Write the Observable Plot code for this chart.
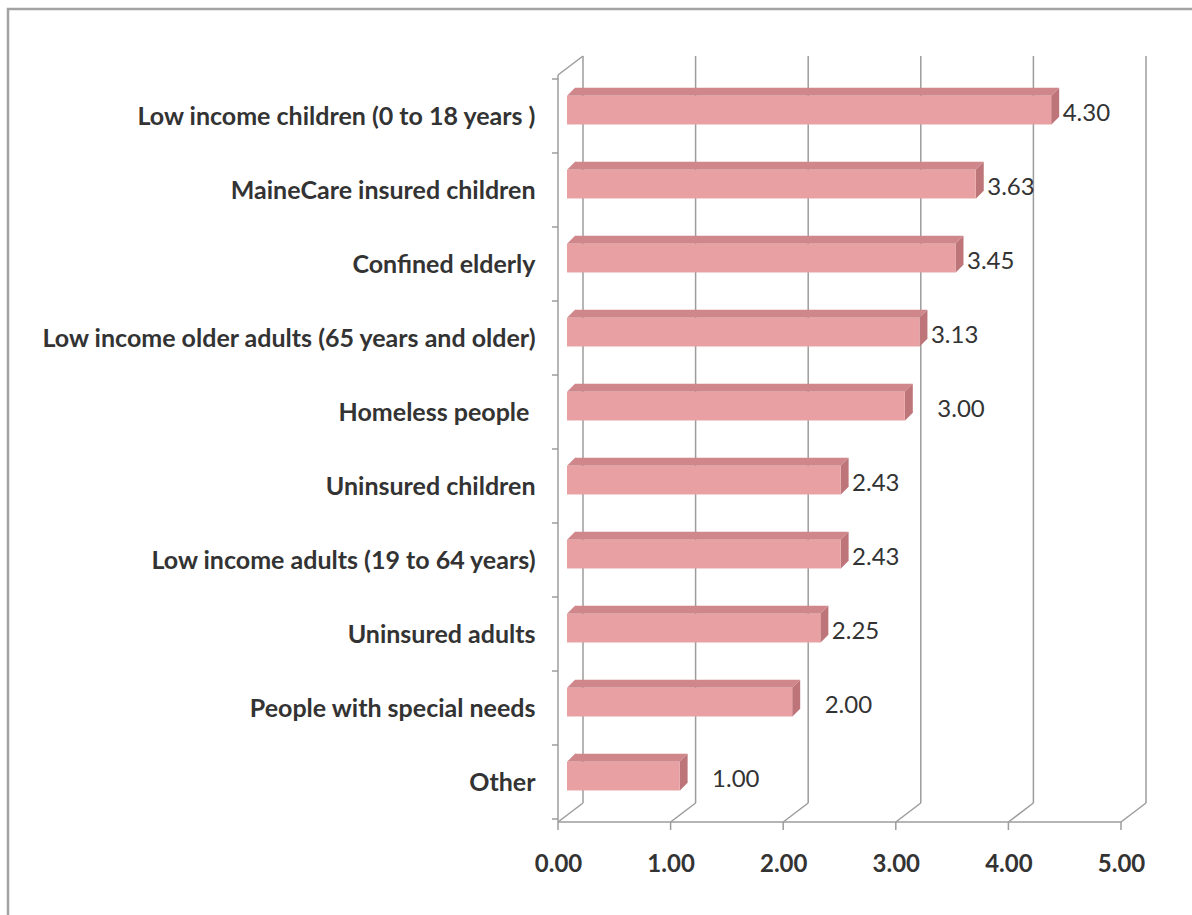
<!DOCTYPE html>
<html>
<head>
<meta charset="utf-8">
<script src="https://cdn.jsdelivr.net/npm/d3@7"></script>
<script src="https://cdn.jsdelivr.net/npm/@observablehq/plot@0.6"></script>
<style>
  body { margin: 0; background: #fff; }
  #chart svg { display: block; }
</style>
</head>
<body>
<div id="chart"></div>
<script>
// ---- data ----
const categories = [
  "Low income children (0 to 18 years )",
  "MaineCare insured children",
  "Confined elderly",
  "Low income older adults (65 years and older)",
  "Homeless people ",
  "Uninsured children",
  "Low income adults (19 to 64 years)",
  "Uninsured adults",
  "People with special needs",
  "Other"
];
const values = [4.30, 3.63, 3.45, 3.13, 3.00, 2.43, 2.43, 2.25, 2.00, 1.00];
const valueLabels = ["4.30", "3.63", "3.45", "3.13", "3.00", "2.43", "2.43", "2.25", "2.00", "1.00"];
const xTicks = [0, 1, 2, 3, 4, 5];
const xTickLabels = ["0.00", "1.00", "2.00", "3.00", "4.00", "5.00"];

const rows = categories.map((c, i) => ({category: c, value: values[i], label: valueLabels[i]}));

// ---- styling constants (3D look) ----
const WALL_DX = 25, WALL_DY = -19;      // depth of chart walls
const BAR_DX = 9;                         // bar front offset into depth
const BAR_DEPTH_X = 8, BAR_DEPTH_Y = -8;  // bar extrusion
const BAR_TOP_FRAC = 0.228, BAR_H_FRAC = 0.39;
const GRID = "#9c9c9c";

function walls(index, scales, values, dimensions) {
  const x = scales.x, y = scales.y;
  const top = dimensions.marginTop, bottom = dimensions.height - dimensions.marginBottom;
  const g = d3.create("svg:g").attr("fill", "none").attr("stroke", GRID).attr("stroke-width", 1.5);
  // outer border
  g.append("path").attr("d", `M8,${dimensions.height + 5}V9H${dimensions.width + 5}`)
    .attr("stroke", "#a3a3a3").attr("stroke-width", 2.5);
  for (const t of xTicks) {
    const px = x(t);
    g.append("line").attr("x1", px + WALL_DX).attr("x2", px + WALL_DX)
      .attr("y1", top + WALL_DY).attr("y2", bottom + WALL_DY);
    g.append("line").attr("x1", px).attr("y1", bottom)
      .attr("x2", px + WALL_DX).attr("y2", bottom + WALL_DY);
    g.append("line").attr("x1", px).attr("x2", px).attr("y1", bottom).attr("y2", bottom + 8);
  }
  // front floor edge
  g.append("line").attr("x1", x(xTicks[0])).attr("x2", x(xTicks[xTicks.length - 1]))
    .attr("y1", bottom).attr("y2", bottom);
  // left wall
  const x0 = x(xTicks[0]);
  g.append("line").attr("x1", x0).attr("x2", x0).attr("y1", top).attr("y2", bottom);
  g.append("line").attr("x1", x0).attr("y1", top).attr("x2", x0 + WALL_DX).attr("y2", top + WALL_DY);
  // category ticks on the wall at band boundaries
  const bounds = categories.map(c => y(c)).concat([y(categories[categories.length - 1]) + y.bandwidth()]);
  for (const b of bounds) {
    g.append("line").attr("x1", x0 - 6).attr("x2", x0).attr("y1", b).attr("y2", b);
  }
  return g.node();
}

function barSides(index, scales) {
  const x = scales.x, y = scales.y, bw = y.bandwidth();
  const g = d3.create("svg:g");
  for (const d of rows) {
    const y0 = y(d.category) + BAR_TOP_FRAC * bw;
    const y1 = y0 + BAR_H_FRAC * bw;
    const xl = x(0) + BAR_DX, xr = x(d.value) + BAR_DX;
    g.append("polygon")
      .attr("points", [[xl, y0], [xl + BAR_DEPTH_X, y0 + BAR_DEPTH_Y], [xr + BAR_DEPTH_X, y0 + BAR_DEPTH_Y], [xr, y0]].join(" "))
      .attr("fill", "#d0878c");
    g.append("polygon")
      .attr("points", [[xr, y0], [xr + BAR_DEPTH_X, y0 + BAR_DEPTH_Y], [xr + BAR_DEPTH_X, y1 + BAR_DEPTH_Y], [xr, y1]].join(" "))
      .attr("fill", "#bd757a");
  }
  return g.node();
}

const bwApprox = (915 - 75 - 93) / categories.length;

const chart = Plot.plot({
  width: 1192,
  height: 915,
  marginLeft: 558,
  marginRight: 71,
  marginTop: 75,
  marginBottom: 93,
  style: {
    fontFamily: "Lato, 'Open Sans', sans-serif",
    fontSize: "25px",
    fontWeight: "bold",
    color: "#333",
    background: "transparent",
    overflow: "visible"
  },
  x: {
    domain: [0, 5],
    ticks: xTicks,
    tickFormat: d => xTickLabels[xTicks.indexOf(d)],
    tickSize: 0,
    tickPadding: 32,
    label: null
  },
  y: {
    domain: categories,
    padding: 0,
    tickSize: 0,
    tickPadding: 23,
    label: null
  },
  marks: [
    walls,
    barSides,
    Plot.barX(rows, {
      x: "value",
      y: "category",
      dx: BAR_DX,
      insetTop: BAR_TOP_FRAC * bwApprox,
      insetBottom: (1 - BAR_TOP_FRAC - BAR_H_FRAC) * bwApprox,
      fill: "#e9a0a2"
    }),
    Plot.text(rows.filter(d => !Number.isInteger(d.value)), {
      x: "value", y: "category", text: "label",
      dx: 20, dy: -3, textAnchor: "start",
      fontSize: 24, fontWeight: "normal", fill: "#333"
    }),
    Plot.text(rows.filter(d => Number.isInteger(d.value)), {
      x: "value", y: "category", text: "label",
      dx: 41, dy: -3, textAnchor: "start",
      fontSize: 24, fontWeight: "normal", fill: "#333"
    })
  ]
});

// x tick labels are a touch smaller than the category labels
d3.select(chart).selectAll('g[aria-label^="x-axis"]').attr("font-size", 24);

document.getElementById("chart").appendChild(chart);
</script>
</body>
</html>
